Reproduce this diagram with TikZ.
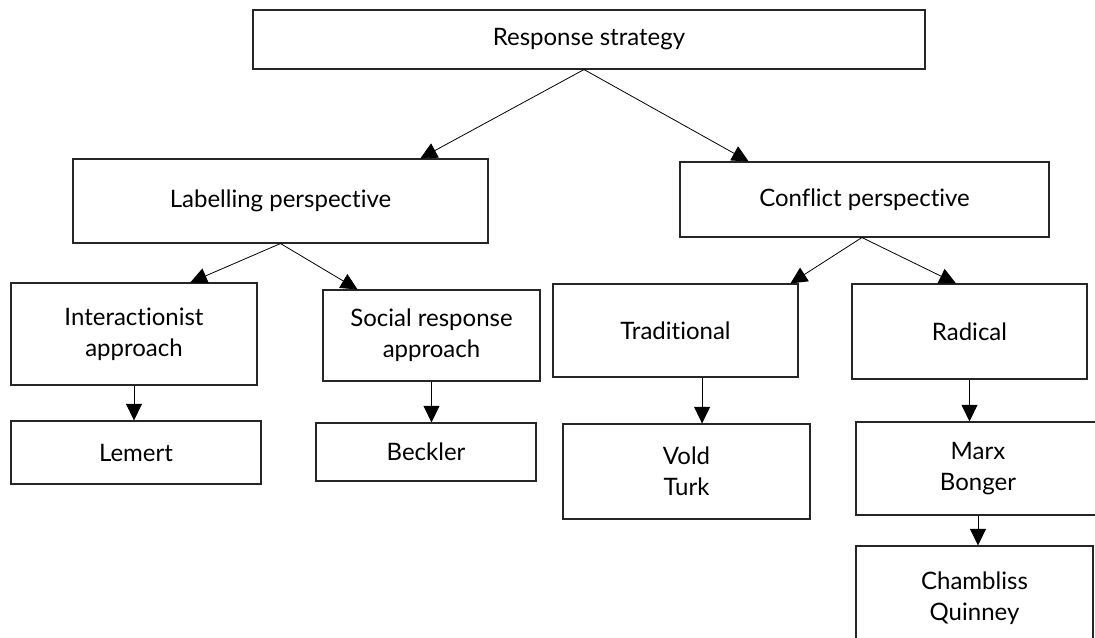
\documentclass[tikz,border=0pt]{standalone}
\usepackage{fontspec}
\setmainfont{Lato}[Ligatures=NoCommon]
\usetikzlibrary{positioning,calc,arrows.meta}

\begin{document}
\begin{tikzpicture}[x=0.75pt,y=-0.75pt,
    box/.style={draw=black!85, line width=0.8pt, align=center, inner sep=0pt,
        font=\fontsize{18}{23.25}\selectfont},
    link/.style={-{Triangle[length=12.5pt,width=12pt]}, line width=0.6pt}]
    \useasboundingbox (0,0) rectangle (1095,637);
    \clip (0,0) rectangle (1095,637);

    % top
    \node[box, minimum width=504pt, minimum height=44.25pt] (resp) at (589,39.5) {Response strategy};

    % perspectives
    \node[box, minimum width=311.25pt, minimum height=63pt] (label) at (280.5,201) {Labelling perspective};
    \node[box, minimum width=276.75pt, minimum height=56.25pt] (conf) at (864.5,199.5) {Conflict perspective};

    % approaches
    \node[box, minimum width=184.5pt, minimum height=76.5pt] (inter) at (134,334) {Interactionist\\approach};
    \node[box, minimum width=162.75pt, minimum height=68.25pt] (social) at (431.5,335.5) {Social response\\approach};
    \node[box, minimum width=183.75pt, minimum height=69.75pt] (trad) at (675.5,330.5) {Traditional};
    \node[box, minimum width=176.25pt, minimum height=71.25pt] (radical) at (969.5,331.5) {Radical};

    % authors
    \node[box, minimum width=187.5pt, minimum height=47.25pt] (lemert) at (136,452.5) {Lemert};
    \node[box, minimum width=165pt, minimum height=43.5pt] (beckler) at (426,452) {Beckler};
    \node[box, minimum width=185.25pt, minimum height=71.25pt] (vold) at (686.5,471.5) {Vold\\Turk};
    \node[box, minimum width=183pt, minimum height=69.75pt] (marx) at (978,468.5) {Marx\\Bonger};
    \node[box, minimum width=177.75pt, minimum height=78pt] (chamb) at (974.5,598) {Chambliss\\Quinney};

    \draw[link] ($(resp.south west)!0.4926!(resp.south east)$) -- ($(label.north west)!0.836!(label.north east)$);
    \draw[link] ($(resp.south west)!0.4926!(resp.south east)$) -- ($(conf.north west)!0.187!(conf.north east)$);
    \draw[link] (label.south) -- ($(inter.north west)!0.728!(inter.north east)$);
    \draw[link] (label.south) -- ($(social.north west)!0.161!(social.north east)$);
    \draw[link] ($(conf.south west)!0.493!(conf.south east)$) -- ($(trad.north west)!0.967!(trad.north east)$);
    \draw[link] ($(conf.south west)!0.493!(conf.south east)$) -- ($(radical.north west)!0.443!(radical.north east)$);
    \draw[link] (inter.south) -- (inter.south |- lemert.north);
    \draw[link] (social.south) -- (social.south |- beckler.north);
    \draw[link] ($(trad.south west)!0.608!(trad.south east)$) coordinate (t) -- (t |- vold.north);
    \draw[link] (radical.south) -- (radical.south |- marx.north);
    \draw[link] (marx.south) -- (marx.south |- chamb.north);
\end{tikzpicture}
\end{document}
